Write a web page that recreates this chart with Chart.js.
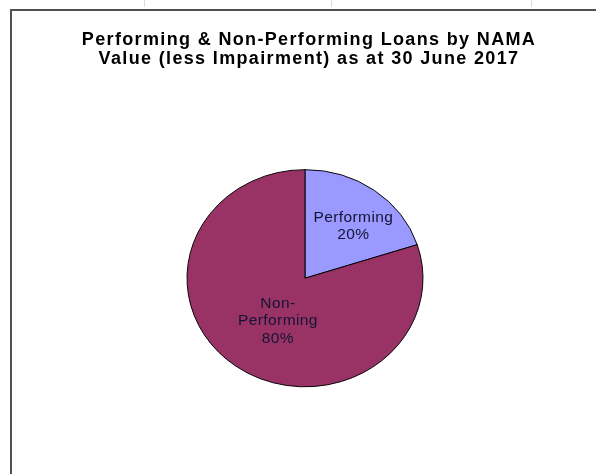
<!DOCTYPE html>
<html>
<head>
<meta charset="utf-8">
<script src="https://cdn.jsdelivr.net/npm/chart.js@4/dist/chart.umd.min.js"></script>
<style>
  body { margin: 0; background: #fff; }
  .wrap { position: relative; width: 596px; height: 474px; overflow: hidden; }
  #chart { position: absolute; left: 0; top: 0; }
  .frame { position: absolute; left: 10px; top: 9px; width: 700px; height: 600px;
           border-left: 2px solid #505050; border-top: 2px solid #505050; }
  .grid { position: absolute; top: 0; width: 1px; height: 7px; background: #dcdcdc; }
</style>
</head>
<body>
<div class="wrap">
  <canvas id="chart" width="596" height="474"></canvas>
  <div class="frame"></div>
  <div class="grid" style="left:144px"></div>
  <div class="grid" style="left:331px"></div>
  <div class="grid" style="left:531px"></div>
</div>
<script>
const categories = ['Performing', 'Non-Performing'];
const labelLines = [['Performing'], ['Non-', 'Performing']];
const shares = [20, 80];
const colours = ['#9999ff', '#993366'];

// the pie in the picture is a bit flatter than it is wide
const squashY = 0.92;

// wider, slightly right-shifted title like the original
const titleSpacing = {
    id: 'titleSpacing',
    beforeDraw(chart) {
        const ctx = chart.ctx;
        ctx.save();
        ctx.letterSpacing = '1.35px';
        ctx.translate(4, 0);
    },
    beforeDatasetsDraw(chart) {
        chart.ctx.restore();
    }
};

const squash = {
    id: 'squash',
    beforeDatasetsDraw(chart) {
        const arc = chart.getDatasetMeta(0).data[0];
        const ctx = chart.ctx;
        ctx.save();
        ctx.translate(0, arc.y);
        ctx.scale(1, squashY);
        ctx.translate(0, -arc.y);
    },
    afterDatasetsDraw(chart) {
        chart.ctx.restore();
    }
};

const sliceLabels = {
    id: 'sliceLabels',
    afterDraw(chart, args, opts) {
        const ctx = chart.ctx;
        const arcs = chart.getDatasetMeta(0).data;
        ctx.save();
        ctx.letterSpacing = '0.4px';
        ctx.font = '15.5px "Liberation Sans", Arial, sans-serif';
        ctx.fillStyle = '#141432';
        ctx.textAlign = 'center';
        ctx.textBaseline = 'middle';
        arcs.forEach((arc, i) => {
            const mid = (arc.startAngle + arc.endAngle) / 2 + opts.turn[i];
            const r = arc.outerRadius * opts.radius[i];
            const x = arc.x + Math.cos(mid) * r;
            const y = arc.y + Math.sin(mid) * r * squashY;
            const lines = labelLines[i].concat([shares[i] + '%']);
            const top = y - (lines.length - 1) * 17.5 / 2;
            lines.forEach((t, j) => ctx.fillText(t, x, top + j * 17.5));
        });
        ctx.restore();
    }
};

new Chart(document.getElementById('chart'), {
    type: 'pie',
    data: {
        labels: categories,
        datasets: [{
            data: shares,
            backgroundColor: colours,
            borderColor: '#000',
            borderWidth: 1
        }]
    },
    options: {
        responsive: false,
        devicePixelRatio: 1,
        animation: false,
        radius: 118,
        layout: { padding: { top: 31, left: 20, right: 6, bottom: 6 } },
        plugins: {
            legend: { display: false },
            tooltip: { enabled: false },
            title: {
                display: true,
                text: ['Performing & Non-Performing Loans by NAMA', 'Value (less Impairment) as at 30 June 2017'],
                color: '#000',
                font: { family: '"Liberation Sans", Arial, sans-serif', size: 18, weight: 'bold', lineHeight: 1.04 },
                padding: { top: 0, bottom: 20 }
            },
            sliceLabels: { radius: [0.63, 0.455], turn: [0.08, -0.1] }
        }
    },
    plugins: [titleSpacing, squash, sliceLabels]
});
</script>
</body>
</html>
